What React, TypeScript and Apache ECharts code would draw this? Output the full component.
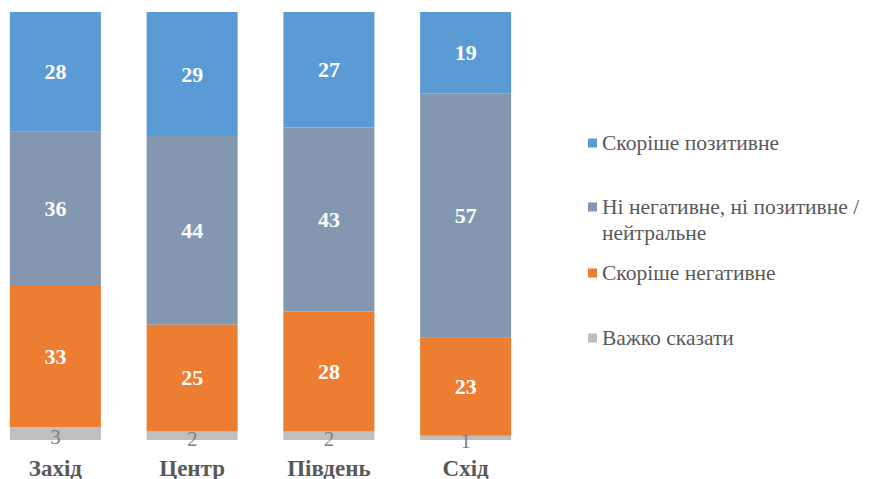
import React, { useEffect, useRef } from "react";
import * as echarts from "echarts";

const categories = ["Захід", "Центр", "Південь", "Схід"];
const positive = [28, 29, 27, 19];
const neutral = [36, 44, 43, 57];
const negative = [33, 25, 28, 23];
const hardToSay = [3, 2, 2, 1];
const seriesNames = [
  "Скоріше позитивне",
  "Ні негативне, ні позитивне /",
  "Скоріше негативне",
  "Важко сказати",
];
const neutralSecondLine = "нейтральне";

const FONT = "Liberation Serif";

export default function App() {
  const ref = useRef<HTMLDivElement>(null);
  useEffect(() => {
    if (!ref.current) return;
    const chart = echarts.init(ref.current, null, { renderer: "svg" });
    const whiteLabel = {
      show: true,
      position: "inside",
      color: "#ffffff",
      fontFamily: FONT,
      fontWeight: "bold",
      fontSize: 22,
    };
    const mkLegend = (name: string, top: number) => ({
      show: true,
      orient: "vertical",
      left: 588,
      top,
      padding: 0,
      itemWidth: 9,
      itemHeight: 9,
      icon: "rect",
      selectedMode: false,
      data: [name],
      textStyle: {
        fontFamily: FONT,
        fontSize: 21.5,
        color: "#595959",
        lineHeight: 26,
      },
    });
    chart.setOption({
      animation: false,
      backgroundColor: "#ffffff",
      grid: {
        left: -13,
        width: 547,
        top: 12,
        bottom: 39,
        containLabel: false,
        outerBoundsMode: "none",
      },
      legend: [
        mkLegend(seriesNames[0], 130),
        mkLegend(seriesNames[1], 194),
        mkLegend(seriesNames[2], 260),
        mkLegend(seriesNames[3], 325),
      ],
      graphic: [
        {
          type: "text",
          left: 602,
          top: 220,
          style: {
            text: neutralSecondLine,
            font: `21.5px ${FONT}`,
            lineHeight: 26,
            fill: "#595959",
          },
        },
      ],
      xAxis: {
        type: "category",
        data: categories,
        axisLine: { show: false },
        axisTick: { show: false },
        axisLabel: {
          margin: 17,
          fontFamily: FONT,
          fontWeight: "bold",
          fontSize: 23,
          lineHeight: 22,
          color: "#595959",
        },
      },
      yAxis: {
        type: "value",
        min: 0,
        max: 100,
        show: false,
        splitLine: { show: false },
      },
      series: [
        {
          name: seriesNames[3],
          type: "bar",
          stack: "s",
          data: hardToSay,
          barWidth: 91,
          itemStyle: { color: "#BFBFBF" },
          label: {
            show: true,
            position: "inside",
            color: "#808080",
            fontFamily: FONT,
            fontSize: 21,
            offset: [0, 3],
          },
        },
        {
          name: seriesNames[2],
          type: "bar",
          stack: "s",
          data: negative,
          barWidth: 91,
          itemStyle: { color: "#ED7D31" },
          label: whiteLabel,
        },
        {
          name: seriesNames[1],
          type: "bar",
          stack: "s",
          data: neutral,
          barWidth: 91,
          itemStyle: { color: "#8497B0" },
          label: whiteLabel,
        },
        {
          name: seriesNames[0],
          type: "bar",
          stack: "s",
          data: positive,
          barWidth: 91,
          itemStyle: { color: "#5B9BD5" },
          label: whiteLabel,
        },
      ],
    });
    return () => chart.dispose();
  }, []);
  return (
    <div
      ref={ref}
      style={{ position: "fixed", left: 0, top: 0, width: 870, height: 479 }}
    />
  );
}
